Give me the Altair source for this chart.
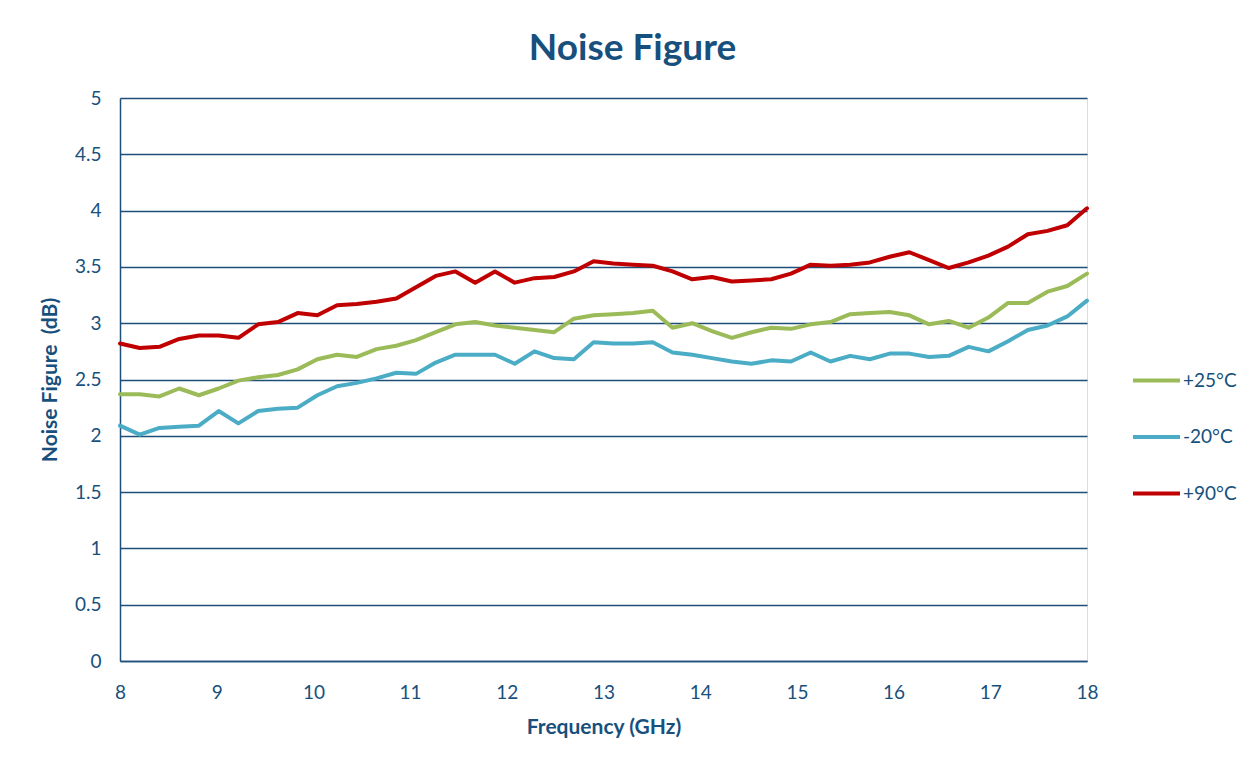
import altair as alt
import pandas as pd

# Frequencies (GHz): 50 points from 8 to 18
freq = [8.000, 8.204, 8.408, 8.612, 8.816, 9.020, 9.224, 9.429, 9.633, 9.837,
        10.041, 10.245, 10.449, 10.653, 10.857, 11.061, 11.265, 11.469, 11.673, 11.878,
        12.082, 12.286, 12.490, 12.694, 12.898, 13.102, 13.306, 13.510, 13.714, 13.918,
        14.122, 14.327, 14.531, 14.735, 14.939, 15.143, 15.347, 15.551, 15.755, 15.959,
        16.163, 16.367, 16.571, 16.776, 16.980, 17.184, 17.388, 17.592, 17.796, 18.000]

nf_p25 = [2.37, 2.37, 2.35, 2.42, 2.36, 2.42, 2.49, 2.52, 2.54, 2.59,
          2.68, 2.72, 2.70, 2.77, 2.80, 2.85, 2.92, 2.99, 3.01, 2.98,
          2.96, 2.94, 2.92, 3.04, 3.07, 3.08, 3.09, 3.11, 2.96, 3.00,
          2.93, 2.87, 2.92, 2.96, 2.95, 2.99, 3.01, 3.08, 3.09, 3.10,
          3.07, 2.99, 3.02, 2.96, 3.05, 3.18, 3.18, 3.28, 3.33, 3.44]

nf_m20 = [2.09, 2.01, 2.07, 2.08, 2.09, 2.22, 2.11, 2.22, 2.24, 2.25,
          2.36, 2.44, 2.47, 2.51, 2.56, 2.55, 2.65, 2.72, 2.72, 2.72,
          2.64, 2.75, 2.69, 2.68, 2.83, 2.82, 2.82, 2.83, 2.74, 2.72,
          2.69, 2.66, 2.64, 2.67, 2.66, 2.74, 2.66, 2.71, 2.68, 2.73,
          2.73, 2.70, 2.71, 2.79, 2.75, 2.84, 2.94, 2.98, 3.06, 3.20]

nf_p90 = [2.82, 2.78, 2.79, 2.86, 2.89, 2.89, 2.87, 2.99, 3.01, 3.09,
          3.07, 3.16, 3.17, 3.19, 3.22, 3.32, 3.42, 3.46, 3.36, 3.46,
          3.36, 3.40, 3.41, 3.46, 3.55, 3.53, 3.52, 3.51, 3.46, 3.39,
          3.41, 3.37, 3.38, 3.39, 3.44, 3.52, 3.51, 3.52, 3.54, 3.59,
          3.63, 3.56, 3.49, 3.54, 3.60, 3.68, 3.79, 3.82, 3.87, 4.02]

series = ["+25°C", "-20°C", "+90°C"]
colors = ["#9BBB59", "#4BACC6", "#C00000"]
x_ticks = [8, 9, 10, 11, 12, 13, 14, 15, 16, 17, 18]
y_ticks = [0, 0.5, 1, 1.5, 2, 2.5, 3, 3.5, 4, 4.5, 5]

rows = []
for name, vals in zip(series, [nf_p25, nf_m20, nf_p90]):
    for f, v in zip(freq, vals):
        rows.append({"Frequency": f, "NF": v, "Series": name})
df = pd.DataFrame(rows)

TEXT = "#17507D"
GRID = "#1F4E79"
FONT = "Lato"

chart = alt.Chart(df).mark_line(strokeWidth=4, strokeJoin="round", strokeCap="round").encode(
    x=alt.X("Frequency:Q",
            scale=alt.Scale(domain=[8, 18], nice=False, zero=False),
            axis=alt.Axis(title="Frequency (GHz)", values=x_ticks, grid=False,
                          tickSize=0, labelPadding=22, titlePadding=14,
                          labelFontSize=19, titleFontSize=21, labelFont=FONT, titleFont=FONT,
                          titleFontWeight="bold", labelColor=TEXT, titleColor=TEXT,
                          domainColor=GRID, domainWidth=1.5, labelFlush=False)),
    y=alt.Y("NF:Q",
            scale=alt.Scale(domain=[0, 5], nice=False),
            axis=alt.Axis(title="Noise Figure\u00a0 (dB)", values=y_ticks, format="~g",
                          grid=True, gridColor=GRID, gridWidth=1.5, gridOpacity=1,
                          tickSize=0, labelPadding=19, titlePadding=14,
                          labelFontSize=19, titleFontSize=21, labelFont=FONT, titleFont=FONT,
                          titleFontWeight="bold", labelColor=TEXT, titleColor=TEXT,
                          domainColor=GRID, domainWidth=1.5)),
    color=alt.Color("Series:N",
                    scale=alt.Scale(domain=series, range=colors),
                    sort=series,
                    legend=alt.Legend(title=None, orient="none", legendX=1011, legendY=257,
                                      symbolType="stroke", symbolStrokeWidth=4, symbolSize=2209,
                                      labelFontSize=19, labelFont=FONT, labelColor=TEXT,
                                      labelOffset=1, rowPadding=20.5, padding=0)),
).properties(
    width=967,
    height=563,
    title=alt.TitleParams("Noise Figure", fontSize=37, font=FONT, fontWeight="bold",
                          color=TEXT, anchor="middle", dx=29, offset=21),
    autosize=alt.AutoSizeParams(type="none"),
    padding={"left": 112, "top": 90, "right": 160, "bottom": 90},
).configure_view(stroke=None).configure(background="white")

chart.save("out.html", embed_options={"renderer": "svg", "actions": False})
